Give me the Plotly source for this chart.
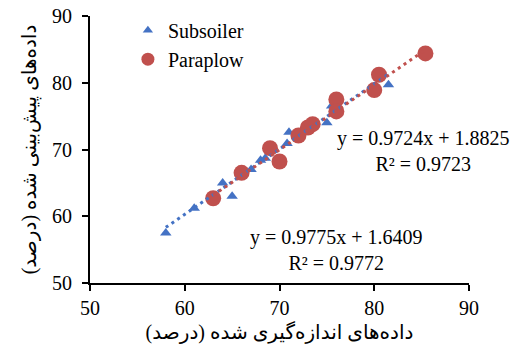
import numpy as np
import plotly.graph_objects as go

# Measured vs predicted values (%)
subsoiler_measured = [58, 61, 64, 65, 67, 68, 68.5, 70.8, 71, 73, 75, 75.5, 80, 81.5]
subsoiler_predicted = [57.5, 61.2, 65, 63, 67, 68.4, 68.7, 70.9, 72.6, 73.5, 74, 76.5, 79, 79.7]

paraplow_measured = [63, 66, 69, 70, 72, 73, 73.5, 76, 76, 80, 80.5, 85.4]
paraplow_predicted = [62.7, 66.5, 70.2, 68.2, 72.1, 73.3, 73.8, 77.5, 75.7, 78.9, 81.2, 84.4]

# Linear fits (slope, intercept, R²)
subsoiler_fit = (0.9775, 1.6409, 0.9772)
paraplow_fit = (0.9724, 1.8825, 0.9723)

tick_vals = [50, 60, 70, 80, 90]

BLUE = "#4472C4"
RED = "#C0504D"
SERIF = "Liberation Serif, Times New Roman, DejaVu Serif, serif"
FA = "Liberation Serif, DejaVu Sans, serif"

fig = go.Figure()

fig.add_trace(go.Scatter(
    x=subsoiler_measured, y=subsoiler_predicted, mode="markers", name="Subsoiler",
    showlegend=False, marker=dict(symbol="triangle-up", size=10, color=BLUE),
))
fig.add_trace(go.Scatter(
    x=paraplow_measured, y=paraplow_predicted, mode="markers", name="Paraplow",
    showlegend=False, marker=dict(symbol="circle", size=16, color=RED),
))


def trend(xs, fit):
    a, b, _ = fit
    x0, x1 = float(np.min(xs)), float(np.max(xs))
    return [x0, x1], [a * x0 + b, a * x1 + b]


tx, ty = trend(subsoiler_measured, subsoiler_fit)
fig.add_trace(go.Scatter(x=tx, y=ty, mode="lines", showlegend=False, hoverinfo="skip",
                         line=dict(color=BLUE, width=3, dash="3px,4px")))
tx, ty = trend(paraplow_measured, paraplow_fit)
fig.add_trace(go.Scatter(x=tx, y=ty, mode="lines", showlegend=False, hoverinfo="skip",
                         line=dict(color=RED, width=3, dash="3px,4px")))

# Legend entries with compact symbols
fig.add_trace(go.Scatter(x=[None], y=[None], mode="markers", name="Subsoiler",
                         marker=dict(symbol="triangle-up", size=9, color=BLUE)))
fig.add_trace(go.Scatter(x=[None], y=[None], mode="markers", name="Paraplow",
                         marker=dict(symbol="circle", size=13, color=RED)))


def eq_text(fit):
    a, b, r2 = fit
    return f"y = {a:.4f}x + {b:.4f}<br>R² = {r2:.4f}"


fig.add_annotation(x=85.25, y=69.8, xref="x", yref="y", text=eq_text(paraplow_fit),
                   showarrow=False, align="center", font=dict(family=SERIF, size=20, color="black"))
fig.add_annotation(x=76.0, y=54.9, xref="x", yref="y", text=eq_text(subsoiler_fit),
                   showarrow=False, align="center", font=dict(family=SERIF, size=20, color="black"))

axis_common = dict(
    range=[50, 90], tickvals=tick_vals, showgrid=False, zeroline=False,
    showline=True, linecolor="black", linewidth=2,
    ticks="outside", ticklen=6, tickwidth=1.5, tickcolor="black",
    tickfont=dict(family=SERIF, size=20, color="black"),
)

fig.update_layout(
    width=513, height=349,
    margin=dict(l=90, r=44, t=16, b=66, autoexpand=False),
    paper_bgcolor="white", plot_bgcolor="white",
    xaxis=dict(axis_common, title=dict(text="داده‌های اندازه‌گیری شده (درصد)",
                                       font=dict(family=FA, size=20, color="black"), standoff=7)),
    yaxis=dict(axis_common, ticklabelstandoff=6,
               title=dict(text="داده‌های پیش‌بینی شده (درصد)",
                          font=dict(family=FA, size=20, color="black"), standoff=10)),
    legend=dict(x=0.1, y=1.02, xanchor="left", yanchor="top", bgcolor="rgba(0,0,0,0)",
                font=dict(family=SERIF, size=20, color="black")),
    showlegend=True,
)

fig.write_html("out.html")
